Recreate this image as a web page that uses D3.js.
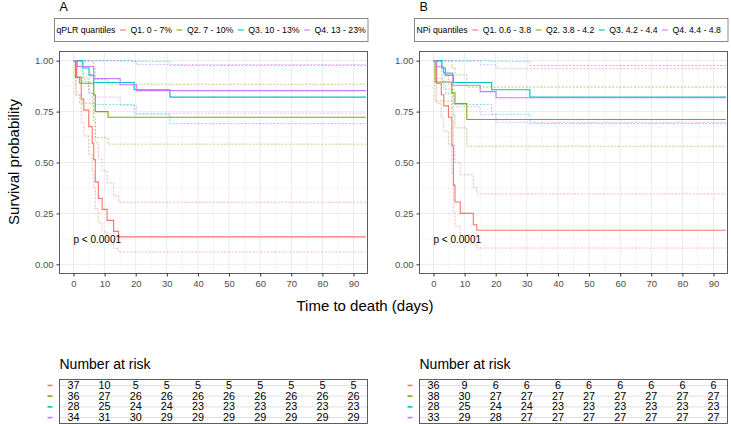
<!DOCTYPE html>
<html><head><meta charset="utf-8">
<script src="https://cdn.jsdelivr.net/npm/d3@7"></script>
<style>body{margin:0;background:#fff}svg{display:block}text{font-family:"Liberation Sans",Arial,Helvetica,sans-serif}</style>
</head><body><svg id="c" width="731" height="424"></svg>
<script>
// ---------- data ----------
const xTicks=[0,10,20,30,40,50,60,70,80,90];
const xMinor=[5,15,25,35,45,55,65,75,85];
const yTicks=[0,0.25,0.5,0.75,1];
const yMinor=[0.125,0.375,0.625,0.875];
const yTickLabels=["0.00","0.25","0.50","0.75","1.00"];
const groupColors=["#F8766D","#7CAE00","#00BFC4","#C77CFF"];
const endTime=94;
const pText="p < 0.0001";

const panelTitles=["A","B"];
const legendTitleA="qPLR quantiles";
const groupsA=["Q1. 0 - 7%","Q2. 7 - 10%","Q3. 10 - 13%","Q4. 13 - 23%"];
const legendTitleB="NPi quantiles";
const groupsB=["Q1. 0.6 - 3.8","Q2. 3.8 - 4.2","Q3. 4.2 - 4.4","Q4. 4.4 - 4.8"];

// Panel A curves (time, survival, lower CI, upper CI)
const timeA1=[1,2.5,3.3,4.9,6,6.5,7,8,9.2,10.8,12.9,14.5];
const survA1=[0.919,0.811,0.757,0.676,0.595,0.514,0.405,0.324,0.270,0.216,0.162,0.135];
const lowA1=[0.835,0.694,0.631,0.541,0.456,0.376,0.274,0.204,0.159,0.117,0.078,0.060];
const upA1=[1,0.947,0.908,0.845,0.776,0.703,0.598,0.516,0.459,0.399,0.337,0.305];

const timeA2=[0.6,2,6.5,7,11.1];
const survA2=[0.917,0.889,0.833,0.750,0.722];
const lowA2=[0.831,0.792,0.720,0.621,0.590];
const upA2=[1,0.998,0.964,0.906,0.884];

const timeA3=[3,5,6.5,19.5,31];
const survA3=[0.964,0.929,0.893,0.857,0.821];
const lowA3=[0.898,0.838,0.785,0.737,0.691];
const upA3=[1,1,1,0.997,0.976];

const timeA4=[1.2,6.5,15,20.2];
const survA4=[0.971,0.912,0.882,0.853];
const lowA4=[0.916,0.821,0.780,0.742];
const upA4=[1,1,0.998,0.981];

// Panel B curves
const timeB1=[1,2.5,3.3,4.8,5.9,6.4,6.9,8.6,12.8,13.9];
const survB1=[0.889,0.833,0.778,0.722,0.583,0.389,0.306,0.250,0.194,0.167];
const lowB1=[0.792,0.720,0.653,0.590,0.443,0.258,0.187,0.142,0.100,0.080];
const upB1=[0.998,0.964,0.926,0.884,0.769,0.586,0.500,0.440,0.378,0.346];

const timeB2=[0.5,5.9,6.9,10.7];
const survB2=[0.895,0.842,0.789,0.711];
const lowB2=[0.802,0.734,0.670,0.580];
const upB2=[0.998,0.966,0.930,0.870];

const timeB3=[2.7,3.8,6.4,18.7,31];
const survB3=[0.964,0.929,0.893,0.857,0.821];
const lowB3=[0.898,0.838,0.785,0.737,0.691];
const upB3=[1,1,1,0.997,0.976];

const timeB4=[1,3.2,6.2,15,20.1];
const survB4=[0.970,0.939,0.879,0.848,0.818];
const lowB4=[0.913,0.861,0.774,0.735,0.697];
const upB4=[1,1,0.998,0.980,0.961];

// Number at risk at xTicks
const riskA1=[37,10,5,5,5,5,5,5,5,5];
const riskA2=[36,27,26,26,26,26,26,26,26,26];
const riskA3=[28,25,24,24,23,23,23,23,23,23];
const riskA4=[34,31,30,29,29,29,29,29,29,29];
const riskB1=[36,9,6,6,6,6,6,6,6,6];
const riskB2=[38,30,27,27,27,27,27,27,27,27];
const riskB3=[28,25,24,24,23,23,23,23,23,23];
const riskB4=[33,29,28,27,27,27,27,27,27,27];

// ---------- build ----------
const panels=[
 {title:panelTitles[0],legendTitle:legendTitleA,labels:groupsA,
  curves:[[timeA1,survA1,lowA1,upA1],[timeA2,survA2,lowA2,upA2],[timeA3,survA3,lowA3,upA3],[timeA4,survA4,lowA4,upA4]],
  risk:[riskA1,riskA2,riskA3,riskA4],left:59.5,right:367.5},
 {title:panelTitles[1],legendTitle:legendTitleB,labels:groupsB,
  curves:[[timeB1,survB1,lowB1,upB1],[timeB2,survB2,lowB2,upB2],[timeB3,survB3,lowB3,upB3],[timeB4,survB4,lowB4,upB4]],
  risk:[riskB1,riskB2,riskB3,riskB4],left:419.5,right:727.5}
];

const svg=d3.select("#c");
svg.append("rect").attr("width",731).attr("height",424).attr("fill","#fff");
const pTop=51.5,pBottom=273.5;
const y=d3.scaleLinear().domain([-0.045,1.045]).range([pBottom,pTop]);
const tableTop=379.5,tableBottom=423.5;
const yr=d3.scaleLinear().domain([0.45,4.55]).range([tableTop,tableBottom]);
const gridCol="#EBEBEB",tickCol="#4D4D4D",borderCol="#4D4D4D";

function stepPts(times,vals,end){
  const pts=[[0,1]];
  times.forEach((t,i)=>pts.push([t,vals[i]]));
  pts.push([end,vals[vals.length-1]]);
  return pts;
}

panels.forEach(p=>{
  const x=d3.scaleLinear().domain([-4.5,94.5]).range([p.left,p.right]);
  const g=svg.append("g");
  g.append("text").attr("x",p.left).attr("y",10.5).attr("font-size",12.5).attr("fill","#000").text(p.title);
  // legend
  const lg=g.append("g");
  lg.append("rect").attr("x",p.left-5).attr("y",18.5).attr("width",p.right-p.left+5.5).attr("height",23)
    .attr("fill","#fff").attr("stroke","#6b6b6b").attr("stroke-width",0.8);
  let cx=p.left-3;
  const fs=8.7;
  const tt=lg.append("text").attr("x",cx).attr("y",30).attr("dominant-baseline","central").attr("font-size",fs).attr("fill","#000").text(p.legendTitle);
  cx+=tt.node().getComputedTextLength()+4.5;
  p.labels.forEach((lab,i)=>{
    lg.append("line").attr("x1",cx).attr("x2",cx+6).attr("y1",30).attr("y2",30).attr("stroke",groupColors[i]).attr("stroke-width",1.1);
    cx+=6+4.5;
    const t=lg.append("text").attr("x",cx).attr("y",30).attr("dominant-baseline","central").attr("font-size",fs).attr("fill","#000").text(lab);
    cx+=t.node().getComputedTextLength()+4.5;
  });
  // grid
  const grid=g.append("g");
  xMinor.forEach(v=>grid.append("line").attr("x1",x(v)).attr("x2",x(v)).attr("y1",pTop).attr("y2",pBottom).attr("stroke",gridCol).attr("stroke-width",0.5));
  yMinor.forEach(v=>grid.append("line").attr("x1",p.left).attr("x2",p.right).attr("y1",y(v)).attr("y2",y(v)).attr("stroke",gridCol).attr("stroke-width",0.5));
  xTicks.forEach(v=>grid.append("line").attr("x1",x(v)).attr("x2",x(v)).attr("y1",pTop).attr("y2",pBottom).attr("stroke",gridCol).attr("stroke-width",1));
  yTicks.forEach(v=>grid.append("line").attr("x1",p.left).attr("x2",p.right).attr("y1",y(v)).attr("y2",y(v)).attr("stroke",gridCol).attr("stroke-width",1));
  // curves
  const line=d3.line().x(d=>x(d[0])).y(d=>y(d[1])).curve(d3.curveStepAfter);
  p.curves.forEach((c,i)=>{
    [c[2],c[3]].forEach(ci=>{
      g.append("path").attr("d",line(stepPts(c[0],ci,endTime))).attr("fill","none")
        .attr("stroke",groupColors[i]).attr("stroke-width",0.7).attr("stroke-dasharray","2,1.6").attr("opacity",0.75);
    });
  });
  p.curves.forEach((c,i)=>{
    g.append("path").attr("d",line(stepPts(c[0],c[1],endTime))).attr("fill","none")
      .attr("stroke",groupColors[i]).attr("stroke-width",1.1);
  });
  g.append("text").attr("x",x(0)).attr("y",y(0.122)).attr("dominant-baseline","central").attr("font-size",10).attr("fill","#000").text(pText);
  g.append("rect").attr("x",p.left).attr("y",pTop).attr("width",p.right-p.left).attr("height",pBottom-pTop).attr("fill","none").attr("stroke",borderCol).attr("stroke-width",0.9);
  // axes
  const xa=g.append("g").attr("transform",`translate(0,${pBottom})`)
    .call(d3.axisBottom(x).tickValues(xTicks).tickSize(3).tickPadding(4));
  xa.select(".domain").remove();
  xa.selectAll(".tick line").attr("stroke","#333");
  xa.selectAll(".tick text").attr("font-size",9.5).attr("fill",tickCol).attr("font-family",null);
  const ya=g.append("g").attr("transform",`translate(${p.left},0)`)
    .call(d3.axisLeft(y).tickValues(yTicks).tickFormat((d,i)=>yTickLabels[i]).tickSize(3).tickPadding(3));
  ya.select(".domain").remove();
  ya.selectAll(".tick line").attr("stroke","#333");
  ya.selectAll(".tick text").attr("font-size",9.5).attr("fill",tickCol).attr("font-family",null);

  // risk table
  const rt=svg.append("g");
  rt.append("text").attr("x",p.left).attr("y",369).attr("font-size",14).attr("fill","#000").text("Number at risk");
  p.risk.forEach((row,i)=>{
    rt.append("line").attr("x1",p.left).attr("x2",p.right).attr("y1",yr(i+1)).attr("y2",yr(i+1)).attr("stroke","#E0E0E0").attr("stroke-width",1);
  });
  p.risk.forEach((row,i)=>{
    rt.append("line").attr("x1",p.left-12).attr("x2",p.left-7).attr("y1",yr(i+1)).attr("y2",yr(i+1)).attr("stroke",groupColors[i]).attr("stroke-width",1.6);
    row.forEach((v,j)=>{
      rt.append("text").attr("x",x(xTicks[j])).attr("y",yr(i+1)-0.5).attr("text-anchor","middle").attr("dominant-baseline","central")
        .attr("font-size",10.8).attr("fill","#000").text(v);
    });
  });
  rt.append("rect").attr("x",p.left).attr("y",tableTop).attr("width",p.right-p.left).attr("height",tableBottom-tableTop).attr("fill","none").attr("stroke",borderCol).attr("stroke-width",0.9);
});

svg.append("text").attr("transform","translate(13,162) rotate(-90)").attr("text-anchor","middle").attr("dominant-baseline","central")
  .attr("font-size",15).attr("fill","#000").text("Survival probability");
svg.append("text").attr("x",365).attr("y",305).attr("text-anchor","middle").attr("dominant-baseline","central")
  .attr("font-size",15).attr("fill","#000").text("Time to death (days)");
</script></body></html>
